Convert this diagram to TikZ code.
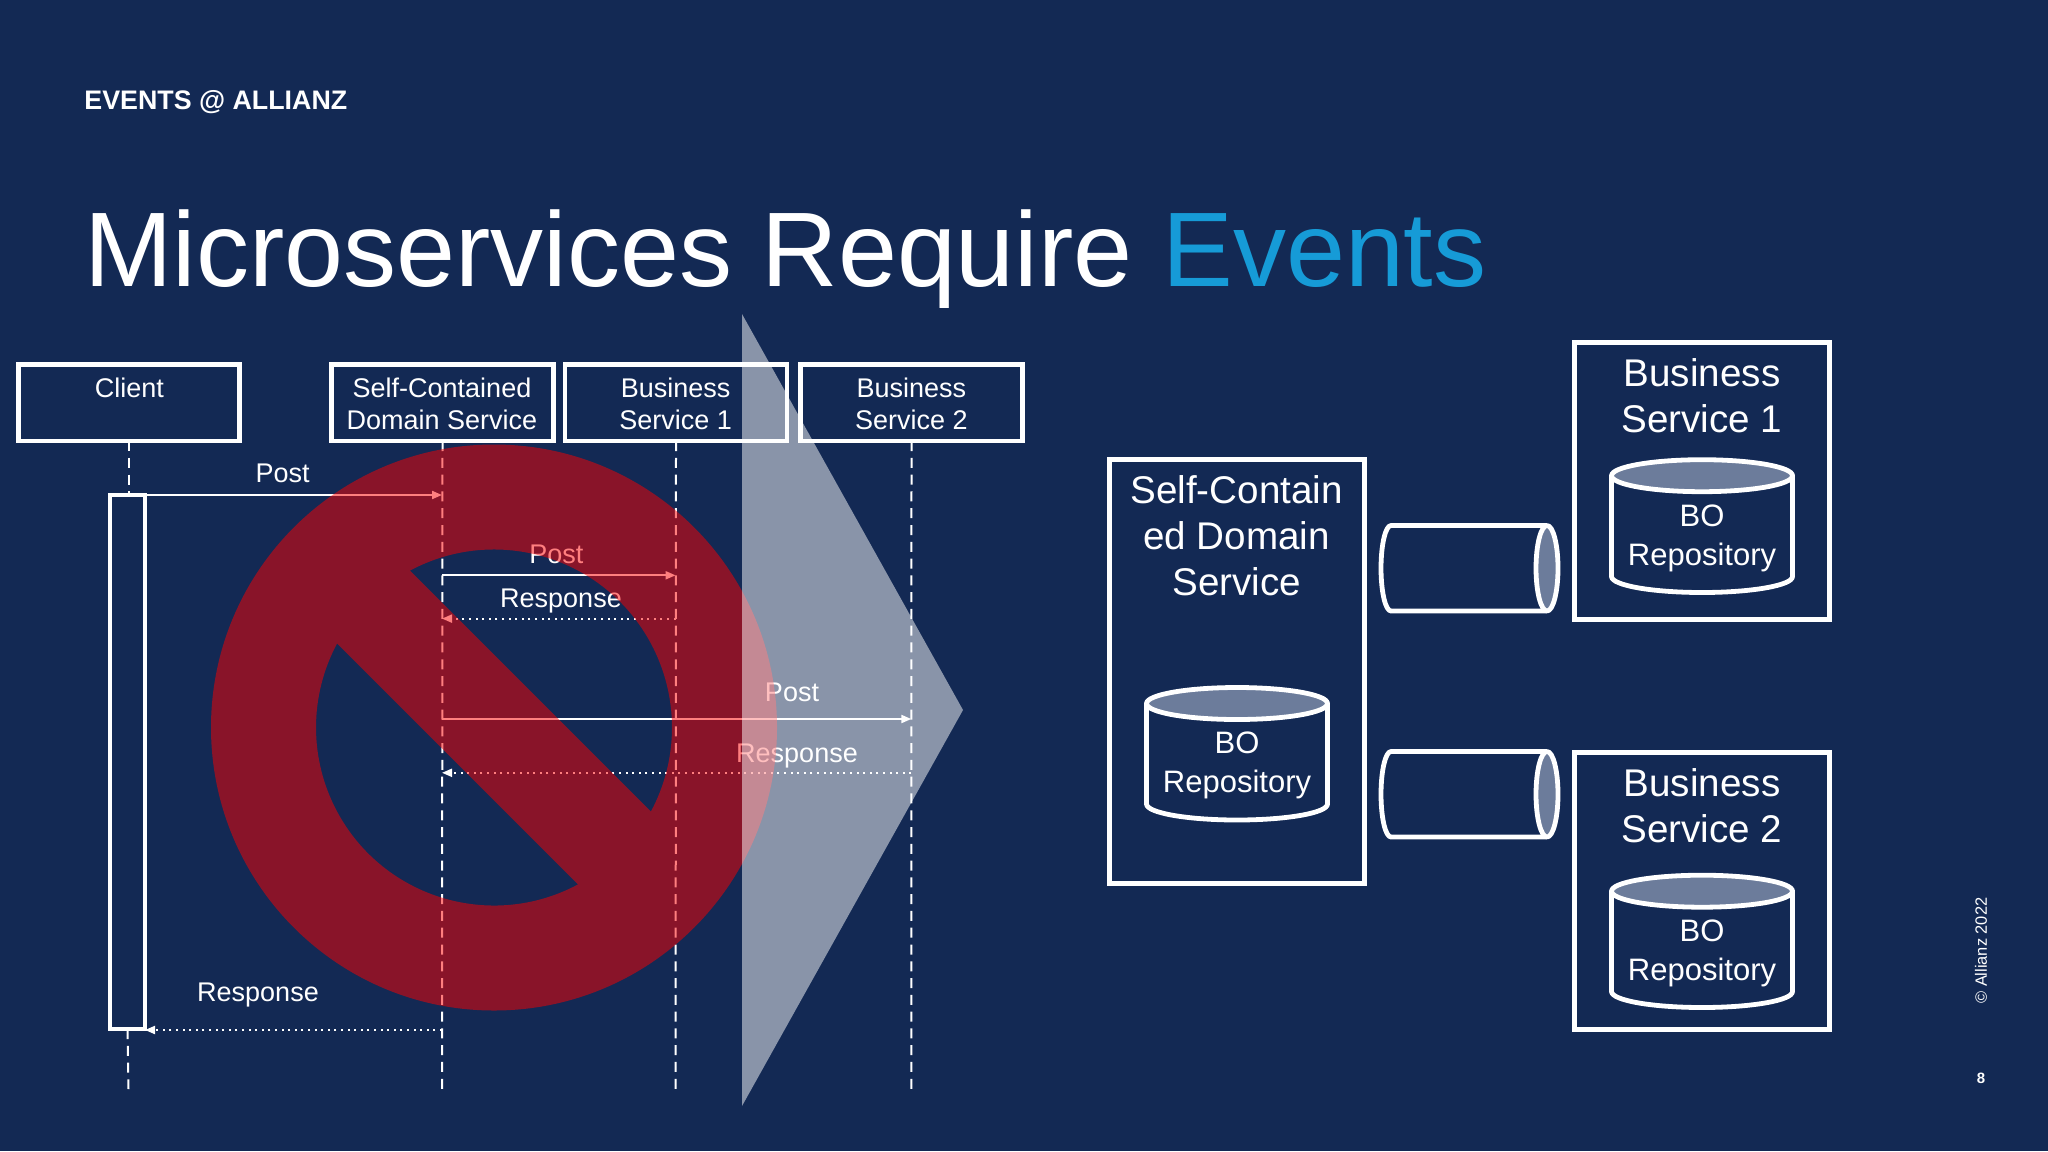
\documentclass[tikz,border=0pt]{standalone}
\usepackage{fontspec}
\setmainfont{Liberation Sans}
\usetikzlibrary{arrows.meta}
\definecolor{navy}{RGB}{19,41,84}
\definecolor{evblue}{RGB}{22,155,215}
\definecolor{capfill}{RGB}{108,124,155}
\tikzset{
  box/.style={draw=white,line width=2.2pt,rectangle,outer sep=0pt,inner sep=0pt,anchor=north west,minimum width=#1},
  txt/.style={text=white,align=center,inner sep=0pt,font=\fontsize{13.5}{16}\selectfont},
  big/.style={text=white,align=center,inner sep=0pt,font=\fontsize{19.3}{23}\selectfont},
  rep/.style={text=white,align=center,inner sep=0pt,font=\fontsize{15.5}{19.5}\selectfont},
  life/.style={draw=white,line width=1pt,dash pattern=on 5pt off 3.39pt},
  call/.style={draw=white,line width=1pt,-{Triangle[length=5pt,width=4pt]}},
  ret/.style={draw=white,line width=1pt,dash pattern=on 1pt off 2.3pt,-{Triangle[length=5pt,width=4pt]}},
  cyl/.style={draw=white,line width=2.4pt,line join=round},
}
\newcommand{\vcyl}[4]{% name, cx, top centre y, bottom centre y
  \coordinate (#1) at (#2,#3);
  \draw[cyl] (#2-90.5,#3) -- (#2-90.5,#4) arc[start angle=180,end angle=0,x radius=90.5,y radius=16] -- (#2+90.5,#3);
  \draw[cyl,fill=capfill] (#2,#3) ellipse[x radius=90.5,y radius=16];
}
\newcommand{\hcyl}[3]{% name, top y, bottom y
  \coordinate (#1) at (1547,{(#2+#3)/2});
  \draw[cyl] (1547,#2) -- (1391,#2) arc[start angle=90,end angle=270,x radius=10,y radius={(#2-#3)/2}] -- (1547,#3);
  \draw[cyl,fill=capfill] (1547,{(#2+#3)/2}) ellipse[x radius=11,y radius={(#3-#2)/2}];
}
\begin{document}
\begin{tikzpicture}[x=0.5pt,y=-0.5pt]
\useasboundingbox[fill=navy] (0,0) rectangle (2048,1151);
% headings
\node[anchor=base west,inner sep=0pt,text=white,font=\fontsize{13.4}{16}\selectfont\bfseries] (kicker) at (84,109) {EVENTS @ ALLIANZ};
\node[anchor=base west,inner sep=0pt,text=white,font=\fontsize{53}{60}\selectfont] (title) at (84,286.5) {Microservices Require \textcolor{evblue}{Events}};
% sequence diagram boxes
\node[box=110.5pt,minimum height=38.3pt] (client) at (18.5,364.5) {};
\node[box=111pt,minimum height=38.3pt] (self) at (331.5,364.5) {};
\node[box=111pt,minimum height=38.3pt] (bs1) at (565,364.5) {};
\node[box=111pt,minimum height=38.3pt] (bs2) at (800.5,364.5) {};
\node[txt] (clientT) at (129.5,388) {Client};
\node[txt] (selfT) at (442,403.5) {Self-Contained\\Domain Service};
\node[txt] (bs1T) at (675.6,403.5) {Business\\Service 1};
\node[txt] (bs2T) at (911.3,403.5) {Business\\Service 2};
\node[box=17.5pt,minimum height=267pt] (act) at (110,495) {};
% lifeline ends
\coordinate (cEnd) at (128.5,1089);
\coordinate (sEnd) at (442,1089);
\coordinate (aEnd) at (675.6,1089);
\coordinate (bEnd) at (911.3,1089);
\draw[life] (client.south) -- (act.north -| client.south);
\draw[life] (act.south) -- (cEnd);
\draw[life] (self.south) -- (sEnd);
\draw[life] (bs1.south) -- (aEnd);
\draw[life] (bs2.south) -- (bEnd);
% messages
\coordinate (a1) at (145,495);   \coordinate (s1) at (442,495);
\coordinate (s2) at (442,575.3); \coordinate (b2) at (675.6,575.3);
\coordinate (s3) at (442,618.6); \coordinate (b3) at (675.6,618.6);
\coordinate (s4) at (442,719);   \coordinate (d4) at (911.3,719);
\coordinate (s5) at (442,772.8); \coordinate (d5) at (911.3,772.8);
\coordinate (s6) at (442,1030);  \coordinate (a6) at (145,1030);
\draw[call] (a1) -- (s1);
\draw[call] (s2) -- (b2);
\draw[ret] (b3) -- (s3);
\draw[call] (s4) -- (d4);
\draw[ret] (d5) -- (s5);
\draw[ret] (s6) -- (a6);
\node[txt] (m1) at (282.6,473.3) {Post};
\node[txt] (m2) at (556.4,554) {Post};
\node[txt] (m3) at (561,601) {Response};
\node[txt] (m4) at (792,692) {Post};
\node[txt] (m5) at (797,755.5) {Response};
\node[txt] (m6) at (258,995) {Response};
% prohibition sign
\fill[red,fill opacity=.5,even odd rule] (494,727.5) circle[radius=283]
  ([shift={(494,727.5)}]-118.2:178) arc[start angle=-118.2,end angle=28.2,radius=178] -- cycle
  ([shift={(494,727.5)}]61.8:178) arc[start angle=61.8,end angle=208.2,radius=178] -- cycle;
% chevron
\fill[white,fill opacity=.5] (742,314) -- (963,710) -- (742,1106) -- cycle;
% right side
\node[box=127.5pt,minimum height=212pt] (rs) at (1109.5,459.5) {};
\node[box=127.5pt,minimum height=138.5pt] (r1) at (1574.5,342.5) {};
\node[box=127.5pt,minimum height=138.5pt] (r2) at (1574.5,752.5) {};
\node[big] (rsT) at (1236.6,536) {Self-Contain\\ed Domain\\Service};
\node[big] (r1T) at (1702,396) {Business\\Service 1};
\node[big] (r2T) at (1702,806) {Business\\Service 2};
\vcyl{cs}{1237}{703.5}{804}
\vcyl{c1}{1702}{475.7}{576.5}
\vcyl{c2}{1702}{891.2}{991.5}
\node[rep] (csT) at (1237,765.5) {BO\\Repository};
\node[rep] (c1T) at (1702,538.5) {BO\\Repository};
\node[rep] (c2T) at (1702,953.5) {BO\\Repository};
\hcyl{q1}{525.5}{611}
\hcyl{q2}{751.5}{837}
% footer
\node[rotate=90,inner sep=0pt,text=white,font=\fontsize{8.2}{10}\selectfont] (copy) at (1981,950.6) {© Allianz 2022};
\node[inner sep=0pt,text=white,font=\fontsize{7.5}{9}\selectfont\bfseries] (page) at (1981,1078) {8};
\end{tikzpicture}
\end{document}
